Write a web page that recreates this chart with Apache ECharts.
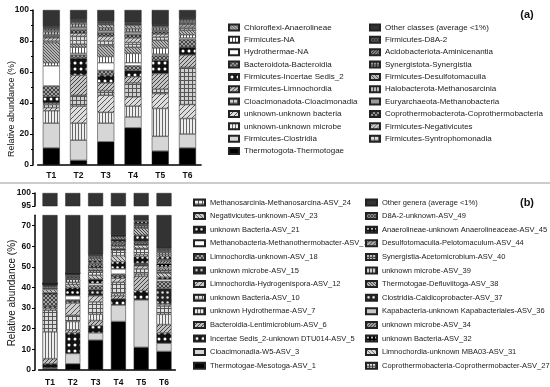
<!DOCTYPE html>
<html><head><meta charset="utf-8">
<script src="https://cdn.jsdelivr.net/npm/echarts@6/dist/echarts.min.js"></script>
<style>html,body{margin:0;padding:0;background:#fff}#c{width:550px;height:387px}</style>
</head><body><div id="c"></div>
<script>
// ---------- DATA ----------
const categories = ['T1','T2','T3','T4','T5','T6'];

// Panel (a): classes, stacked bottom -> top
const classNamesA = ['Thermotogota-Thermotogae','Firmicutes-Clostridia','unknown-unknown microbe','unknown-unknown bacteria','Cloacimonadota-Cloacimonadia','Firmicutes-Limnochordia','Firmicutes-Incertae Sedis_2','Bacteroidota-Bacteroidia','Hydrothermae-NA','Firmicutes-NA','Chloroflexi-Anaerolineae','Firmicutes-Syntrophomonadia','Firmicutes-Negativicutes','Coprothermobacterota-Coprothermobacteria','Euryarchaeota-Methanobacteria','Halobacterota-Methanosarcinia','Firmicutes-Desulfotomaculia','Synergistota-Synergistia','Acidobacteriota-Aminicenantia','Firmicutes-D8A-2','Other classes (average <1%)'];
const a_Thermotogae      = [11, 3, 15, 24, 9, 11];
const a_Clostridia       = [16, 13, 12, 7, 9.5, 9];
const a_unkMicrobe       = [8, 11, 7, 7, 18, 10];
const a_unkBacteria      = [2, 11, 11, 6, 9.5, 9];
const a_Cloacimonadia    = [2, 7, 3, 9, 3, 24];
const a_Limnochordia     = [1, 13, 5, 4, 10, 8];
const a_IncertaeSedis2   = [4, 11, 5, 4, 8.5, 5];
const a_Bacteroidia      = [7, 2, 3, 3, 3, 5];
const a_HydrothermaeNA   = [13, 1, 5, 2, 1, 1];
const a_FirmicutesNA     = [2, 4, 4, 6, 4, 2];
const a_Anaerolineae     = [13, 2, 7, 4, 5, 3];
const a_Syntrophomonadia = [1, 5, 3, 3, 2, 2];
const a_Negativicutes    = [2, 2, 3, 3, 2, 1.5];
const a_Coprothermobact  = [1, 2, 2, 2, 1.5, 1];
const a_Methanobacteria  = [1, 2, 2, 2, 1, 1];
const a_Methanosarcinia  = [2, 2, 1.5, 2, 1.5, 1];
const a_Desulfotomaculia = [1, 1, 2, 2, 1, 0.5];
const a_Synergistia      = [1, 0.5, 1, 1, 0.5, 0.5];
const a_Aminicenantia    = [0.5, 0.5, 0.5, 0.5, 0.3, 0.3];
const a_D8A2             = [0.5, 0.5, 0.5, 0.5, 0.2, 0.2];
const a_Other            = [11, 6.5, 7.5, 8, 9.5, 5];
const valuesA = [a_Thermotogae,a_Clostridia,a_unkMicrobe,a_unkBacteria,a_Cloacimonadia,a_Limnochordia,a_IncertaeSedis2,a_Bacteroidia,a_HydrothermaeNA,a_FirmicutesNA,a_Anaerolineae,a_Syntrophomonadia,a_Negativicutes,a_Coprothermobact,a_Methanobacteria,a_Methanosarcinia,a_Desulfotomaculia,a_Synergistia,a_Aminicenantia,a_D8A2,a_Other];

// Panel (b): genera, stacked bottom -> top
const genusNamesB = ['Thermotogae-Mesotoga-ASV_1','Cloacimonadia-W5-ASV_3','Incertae Sedis_2-unknown DTU014-ASV_5','Bacteroidia-Lentimicrobium-ASV_6','unknown Hydrothermae-ASV_7','unknown Bacteria-ASV_10','Limnochordia-Hydrogenispora-ASV_12','unknown microbe-ASV_15','Limnochordia-unknown-ASV_18','Methanobacteria-Methanothermobacter-ASV_19','unknown Bacteria-ASV_21','Negativicutes-unknown-ASV_23','Methanosarcinia-Methanosarcina-ASV_24','Coprothermobacteria-Coprothermobacter-ASV_27','Limnochordia-unknown MBA03-ASV_31','unknown Bacteria-ASV_32','unknown microbe-ASV_34','Kapabacteria-unknown Kapabacteriales-ASV_36','Clostridia-Caldicoprobacter-ASV_37','Thermotogae-Defluviitoga-ASV_38','unknown microbe-ASV_39','Synergistia-Acetomicrobium-ASV_40','Desulfotomaculia-Pelotomaculum-ASV_44','Anaerolineae-unknown Anaerolineaceae-ASV_45','D8A-2-unknown-ASV_49','Other genera (average <1%)'];
const b_ASV1  = [0.5, 3, 14.5, 23.5, 11, 9];
const b_ASV3  = [0.5, 5, 3.5, 8, 23, 4];
const b_ASV5  = [2, 10, 3.5, 3, 4.5, 5];
const b_ASV6  = [2.5, 1.5, 2.5, 1.5, 7, 4];
const b_ASV7  = [13, 4, 3, 1, 1, 5];
const b_ASV10 = [10.5, 3, 6, 5.5, 2.5, 4];
const b_ASV12 = [1, 6, 3, 2, 1.5, 1];
const b_ASV15 = [1, 1, 3, 1, 0.5, 7.5];
const b_ASV18 = [6, 0.5, 2, 1, 0.5, 3.5];
const b_ASV19 = [0, 2, 1, 2.5, 0.3, 1];
const b_ASV21 = [0.5, 4, 2, 3.5, 3.2, 1];
const b_ASV23 = [1.5, 1.5, 2, 3, 1, 2];
const b_ASV24 = [1, 1, 1.5, 2.5, 2.5, 1];
const b_ASV27 = [0.5, 1.5, 1, 1, 0.5, 1];
const b_ASV31 = [0.3, 0.5, 1, 1, 1.5, 1];
const b_ASV32 = [0.2, 0.5, 1, 0.5, 0.5, 1.5];
const b_ASV34 = [0.3, 0.5, 1, 1, 1, 1.5];
const b_ASV36 = [0.2, 0.5, 0.5, 0.5, 0.3, 0.5];
const b_ASV37 = [0.1, 0.3, 1, 1.5, 3, 1.5];
const b_ASV38 = [0.1, 0.2, 1, 1, 3.5, 1];
const b_ASV39 = [0.1, 0.2, 0.5, 0.3, 0.5, 1];
const b_ASV40 = [0.1, 0.1, 0.5, 0.3, 1, 0.5];
const b_ASV44 = [0.1, 0.1, 0.5, 0.2, 0.5, 0.5];
const b_ASV45 = [0, 0.1, 0.3, 0.1, 1.2, 0.5];
const b_ASV49 = [0, 0, 0.2, 0.1, 0.5, 0.5];
const b_Other = [58, 53, 44, 34.5, 27.5, 41];
const valuesB = [b_ASV1,b_ASV3,b_ASV5,b_ASV6,b_ASV7,b_ASV10,b_ASV12,b_ASV15,b_ASV18,b_ASV19,b_ASV21,b_ASV23,b_ASV24,b_ASV27,b_ASV31,b_ASV32,b_ASV34,b_ASV36,b_ASV37,b_ASV38,b_ASV39,b_ASV40,b_ASV44,b_ASV45,b_ASV49,b_Other];

// ---------- STYLES ----------
function pat(kind, bg, fg, s) {
  if (kind === 'solid') return bg;
  s = s || 6;
  const c = document.createElement('canvas'); c.width = s; c.height = s;
  const g = c.getContext('2d');
  g.fillStyle = bg; g.fillRect(0, 0, s, s);
  g.strokeStyle = fg; g.fillStyle = fg; g.lineWidth = 1;
  g.beginPath();
  if (kind === 'vert') { g.moveTo(0.5, 0); g.lineTo(0.5, s); }
  else if (kind === 'horiz') { g.moveTo(0, 0.5); g.lineTo(s, 0.5); }
  else if (kind === 'grid') { g.moveTo(0.5, 0); g.lineTo(0.5, s); g.moveTo(0, 0.5); g.lineTo(s, 0.5); }
  else if (kind === 'diag' || kind === 'cross') { g.moveTo(0, s); g.lineTo(s, 0); g.moveTo(-1, 1); g.lineTo(1, -1); g.moveTo(s - 1, s + 1); g.lineTo(s + 1, s - 1); }
  if (kind === 'diagR' || kind === 'cross') { g.moveTo(0, 0); g.lineTo(s, s); g.moveTo(s - 1, -1); g.lineTo(s + 1, 1); g.moveTo(-1, s - 1); g.lineTo(1, s + 1); }
  g.stroke();
  if (kind === 'dots') { g.beginPath(); g.arc(s / 2, s / 2, s / 4, 0, Math.PI * 2); g.fill(); }
  return { image: c, repeat: 'repeat' };
}
const stylesA = [
  ['solid','#000'],['solid','#d6d6d6'],['vert','#eee','#666',3],['diag','#ddd','#555',5],
  ['grid','#d0d0d0','#555',4],['diag','#c4c4c4','#444',4],['dots','#111','#fff',6],['cross','#a0a0a0','#444',4],
  ['solid','#fff'],['vert','#fff','#555',3],['diagR','#b4b4b4','#555',3],['grid','#ddd','#666',4],
  ['diag','#ccc','#666',4],['cross','#909090','#333',4],['solid','#9a9a9a'],['vert','#bbb','#444',3],
  ['diagR','#bbb','#555',4],['grid','#999','#333',3],['diag','#888','#333',3],['cross','#6a6a6a','#333',3],
  ['solid','#333']
];
const stylesB = [
  ['solid','#000'],['solid','#d6d6d6'],['dots','#111','#fff',6],['diag','#c0c0c0','#444',4],
  ['vert','#eee','#666',3],['grid','#ddd','#555',4],['diag','#ccc','#555',5],['dots','#222','#ddd',5],
  ['cross','#a0a0a0','#444',4],['solid','#fff'],['dots','#111','#fff',5],['diagR','#ccc','#555',4],
  ['grid','#eee','#555',4],['grid','#ddd','#444',3],['diagR','#ddd','#666',4],['dots','#000','#fff',4],
  ['diag','#a0a0a0','#444',3],['solid','#c8c8c8'],['dots','#222','#fff',5],['diagR','#bbb','#444',3],
  ['vert','#ccc','#444',3],['grid','#bbb','#444',3],['diag','#aaa','#444',4],['dots','#111','#eee',4],
  ['cross','#909090','#444',3],['solid','#333']
];

const FONT = 'Liberation Sans, Arial, sans-serif';
const chart = echarts.init(document.getElementById('c'), null, { renderer: 'canvas' });

function xAxisCfg(gridIndex, show, margin) {
  return {
    type: 'category', data: categories, gridIndex: gridIndex, show: show,
    axisLine: { lineStyle: { color: '#000', width: 1.5 } },
    axisTick: { alignWithLabel: true, length: 3, lineStyle: { color: '#000', width: 1 } },
    axisLabel: { fontSize: 8.5, fontWeight: 'bold', color: '#111', fontFamily: FONT, margin: margin }
  };
}
function yAxisCfg(gridIndex, min, max, interval, offset, extra) {
  return Object.assign({
    type: 'value', gridIndex: gridIndex, min: min, max: max, interval: interval, offset: offset,
    axisLine: { show: true, lineStyle: { color: '#000', width: 1.5 } },
    axisTick: { show: true, length: 3, lineStyle: { color: '#000', width: 1 } },
    axisLabel: { fontSize: 8.5, fontWeight: 'bold', color: '#111', fontFamily: FONT, margin: 4 },
    splitLine: { show: false }
  }, extra || {});
}

const series = [];
classNamesA.forEach(function (name, i) {
  const s = stylesA[i];
  series.push({
    type: 'bar', name: name, stack: 'a', xAxisIndex: 0, yAxisIndex: 0, barWidth: 17,
    data: valuesA[i],
    itemStyle: { color: pat(s[0], s[1], s[2], s[3]), borderColor: '#222', borderWidth: 0.5 }
  });
});
genusNamesB.forEach(function (name, i) {
  const s = stylesB[i];
  const col = pat(s[0], s[1], s[2], s[3]);
  [1, 2].forEach(function (gi) {
    series.push({
      type: 'bar', name: name, stack: 'b' + gi, xAxisIndex: gi, yAxisIndex: gi, barWidth: 15,
      clip: true, data: valuesB[i],
      itemStyle: { color: col, borderColor: '#222', borderWidth: 0.5 }
    });
  });
});

function legendCfg(data, left, top, gap, fs, iw) {
  return {
    data: data, orient: 'vertical', left: left, top: top, itemGap: gap,
    itemWidth: iw, itemHeight: 6, icon: 'rect', selectedMode: false,
    textStyle: { fontSize: fs, color: '#222', fontFamily: FONT }
  };
}
const legA1 = classNamesA.slice(0, 11).reverse();
const legA2 = classNamesA.slice(11).reverse();
const legB1 = genusNamesB.slice(0, 13).reverse();
const legB2 = genusNamesB.slice(13).reverse();

chart.setOption({
  animation: false,
  backgroundColor: '#fff',
  grid: [
    { left: 37.7, top: 10, width: 163.4, height: 155 },
    { left: 38.6, top: 193, width: 136.8, height: 13 },
    { left: 38.6, top: 215.3, width: 136.8, height: 154.7 }
  ],
  xAxis: [xAxisCfg(0, true, 6), xAxisCfg(1, false, 6), xAxisCfg(2, true, 8)],
  yAxis: [
    yAxisCfg(0, 0, 100, 20, 4.7, { minorTick: { show: true, splitNumber: 2, length: 2, lineStyle: { color: '#000' } } }),
    yAxisCfg(1, 95, 100, 5, 3.6),
    yAxisCfg(2, 0, 75, 10, 3.6, { axisLabel: { fontSize: 8.5, fontWeight: 'bold', color: '#111', fontFamily: FONT, margin: 4, showMaxLabel: false } })
  ],
  legend: [
    legendCfg(legA1, 223, 18.5, 4.35, 8, 10),
    legendCfg(legA2, 364, 18.5, 4.35, 8, 10),
    legendCfg(legB1, 188, 193.5, 5.6, 7.5, 11),
    legendCfg(legB2, 360, 193.5, 5.6, 7.5, 11)
  ],
  graphic: [
    { type: 'line', shape: { x1: 0, y1: 183, x2: 550, y2: 183 }, style: { stroke: '#bbb', lineWidth: 1.5 } },
    { type: 'text', x: 12, y: 109, rotation: Math.PI / 2, style: { text: 'Relative abundance (%)', font: '9px ' + FONT, fill: '#111', align: 'center', verticalAlign: 'middle' } },
    { type: 'text', x: 12, y: 293, rotation: Math.PI / 2, style: { text: 'Relative abundance (%)', font: '10px ' + FONT, fill: '#111', align: 'center', verticalAlign: 'middle' } },
    { type: 'text', x: 527, y: 15, style: { text: '(a)', font: 'bold 11px ' + FONT, fill: '#111', align: 'center', verticalAlign: 'middle' } },
    { type: 'text', x: 527, y: 203, style: { text: '(b)', font: 'bold 11px ' + FONT, fill: '#111', align: 'center', verticalAlign: 'middle' } }
  ],
  series: series
});
</script>
</body></html>
